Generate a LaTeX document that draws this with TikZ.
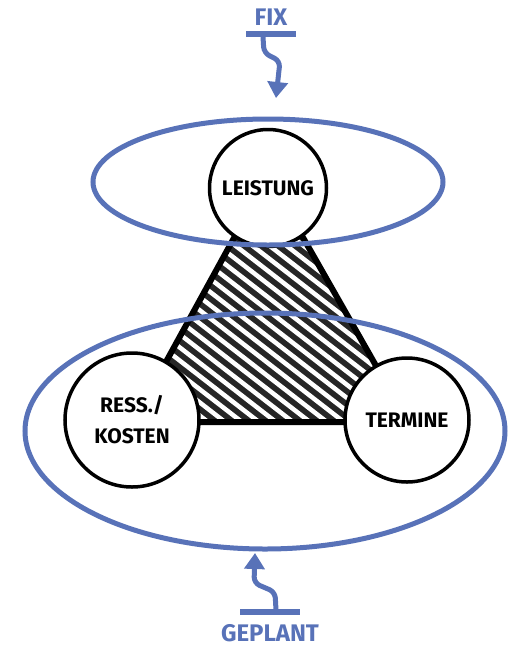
\documentclass[tikz,border=0pt]{standalone}
\usepackage{fontspec}
\setmainfont{Fira Sans}
\usetikzlibrary{arrows.meta}
\definecolor{sketchblue}{RGB}{88,114,184}

\begin{document}
\begin{tikzpicture}[x=1pt,y=-1pt,
    bubble/.style={circle,draw=black,line width=3.5pt,fill=white,inner sep=0pt,
      align=center,font=\fontsize{21}{31}\selectfont\bfseries},
    rim/.style={draw=sketchblue,line width=5pt},
    cue/.style={text=sketchblue,font=\fontsize{24}{24}\selectfont\bfseries},
    squiggle/.style={draw=sketchblue,line width=5pt,rounded corners=6pt,
      -{Triangle[length=16pt,width=20pt]}}]
  \useasboundingbox (0,0) rectangle (514,649);

  \coordinate (pL) at (268,176);
  \coordinate (pK) at (133,422);
  \coordinate (pT) at (408,422);

  % hatched triangle
  \begin{scope}
    \clip (pL) -- (pK) -- (pT) -- cycle;
    \fill[black!85] (120,160) rectangle (420,430);
    \foreach \i in {-330,-313,...,420} {
      \draw[white,line width=4.5pt] (\i,150) -- ++(400,310);
    }
  \end{scope}
  \draw[line width=6pt,line join=round] (pL) -- (pK) -- (pT) -- cycle;

  \node[bubble,minimum size=117pt] (leistung) at (268,188) {LEISTUNG};
  \node[bubble,minimum size=134pt] (kosten) at (132,420) {RESS./\\KOSTEN};
  \node[bubble,minimum size=124pt] (termine) at (407,420) {TERMINE};

  % fixed and planned
  \draw[rim] (268,182) ellipse [x radius=175, y radius=63];
  \draw[rim] (265,431) ellipse [x radius=240, y radius=118];

  \node[cue] (fix) at (271,17) {FIX};
  \coordinate (fixl) at (246,34);
  \coordinate (fixr) at (296,34);
  \draw[sketchblue,line width=6pt] (fixl) -- (fixr);
  \draw[squiggle] (263,37) -- (264,53) -- (280,61) -- (276,98);

  \node[cue] (geplant) at (270,633) {GEPLANT};
  \coordinate (planl) at (240,612);
  \coordinate (planr) at (300,612);
  \draw[sketchblue,line width=6pt] (planl) -- (planr);
  \draw[squiggle] (276,610) -- (275,592) -- (254,583) -- (255,553);
\end{tikzpicture}
\end{document}
